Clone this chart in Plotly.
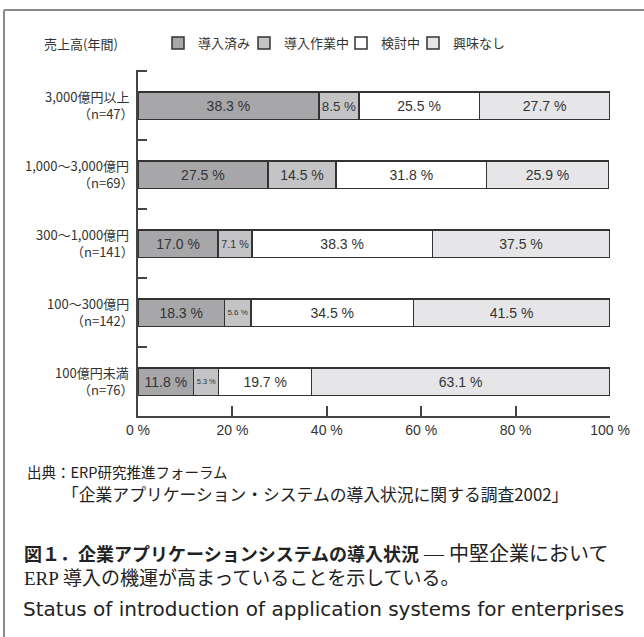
import plotly.graph_objects as go

# ---- data ----
categories = ["3,000億円以上", "1,000～3,000億円", "300～1,000億円", "100～300億円", "100億円未満"]
sample_sizes = ["（n=47）", "（n=69）", "（n=141）", "（n=142）", "（n=76）"]
series_names = ["導入済み", "導入作業中", "検討中", "興味なし"]
adopted = [38.3, 27.5, 17.0, 18.3, 11.8]
in_progress = [8.5, 14.5, 7.1, 5.6, 5.3]
considering = [25.5, 31.8, 38.3, 34.5, 19.7]
no_interest = [27.7, 25.9, 37.5, 41.5, 63.1]
x_ticks = [0, 20, 40, 60, 80, 100]
x_tick_labels = ["0 %", "20 %", "40 %", "60 %", "80 %", "100 %"]

colors = ["#a7a7aa", "#c4c4c6", "#ffffff", "#e6e6e8"]
values = [adopted, in_progress, considering, no_interest]

W, H = 644, 637
L, R, T, B = 138, 34, 70, 221
PW, PH = W - L - R, H - T - B

def px(x):
    return (x - L) / PW

def py(y):
    return 1 - (y - T) / PH

FONT = "Noto Sans CJK JP, Liberation Sans, sans-serif"
LAT = "Liberation Sans, Noto Sans CJK JP, sans-serif"
SERIF = "Liberation Serif, Noto Sans CJK JP, serif"

fig = go.Figure()
legend_names = ["legend", "legend2", "legend3", "legend4"]
for name, vals, col, lg in zip(series_names, values, colors, legend_names):
    fig.add_trace(go.Bar(
        y=categories, x=vals, orientation="h", name=name,
        marker=dict(color=col, line=dict(color="#333333", width=1.5)),
        text=[f"{v:.1f} %" for v in vals], textposition="inside",
        insidetextanchor="middle", textangle=0,
        textfont=dict(family=LAT, size=14, color="#333333"),
        hoverinfo="skip", legend=lg,
    ))

leg_x = [172, 258, 355, 427]
legend_layout = {}
for lg, lx in zip(legend_names, leg_x):
    legend_layout[lg] = dict(
        x=px(lx - 14), y=py(43), xanchor="left", yanchor="middle",
        orientation="h", bgcolor="rgba(0,0,0,0)", itemwidth=30,
        font=dict(family=FONT, size=13, color="#333333"),
        tracegroupgap=0,
    )

fig.update_layout(
    width=W, height=H, margin=dict(l=L, r=R, t=T, b=B, autoexpand=False),
    paper_bgcolor="white", plot_bgcolor="white",
    barmode="stack", bargap=0.6,
    showlegend=True,
    **legend_layout,
    xaxis=dict(range=[0, 100], tickvals=x_ticks, ticktext=x_tick_labels,
               ticks="inside", ticklen=10, tickwidth=1.5, tickcolor="#444444",
               showline=True, linecolor="#444444", linewidth=1.5,
               showgrid=False, zeroline=False,
               tickfont=dict(family=LAT, size=14, color="#333333")),
    yaxis=dict(categoryorder="array", categoryarray=categories,
               range=[4.5, -0.52], tickson="boundaries",
               ticks="inside", ticklen=9, tickwidth=1.5, tickcolor="#444444",
               showline=True, linecolor="#444444", linewidth=1.5,
               showgrid=False, zeroline=False, showticklabels=False),
)

ann = []
for cat, n in zip(categories, sample_sizes):
    ann.append(dict(text=cat, x=px(131), y=cat, yref="y", xref="paper", yshift=9,
                    xanchor="right", yanchor="middle",
                    font=dict(family=FONT, size=13, color="#333333")))
    ann.append(dict(text=n, x=px(136), y=cat, yref="y", xref="paper", yshift=-8,
                    xanchor="right", yanchor="middle",
                    font=dict(family=FONT, size=13, color="#333333")))
ann.append(dict(text="売上高(年間)", x=px(42), y=py(43), xanchor="left", yanchor="middle",
                font=dict(family=FONT, size=13, color="#333333")))
ann.append(dict(text="出典：ERP研究推進フォーラム", x=px(25), y=py(471), xanchor="left",
                yanchor="middle", font=dict(family=FONT, size=14.5, color="#222222")))
ann.append(dict(text="「企業アプリケーション・システムの導入状況に関する調査2002」", x=px(60),
                y=py(494), xanchor="left", yanchor="middle",
                font=dict(family=FONT, size=16.8, color="#222222")))
ann.append(dict(text="<b>図１．企業アプリケーションシステムの導入状況</b>"
                     f"<span style='font-family:{SERIF};font-size:20px'> ― 中堅企業において</span>",
                x=px(22), y=py(553), xanchor="left", yanchor="middle",
                font=dict(family=FONT, size=18, color="#222222")))
ann.append(dict(text="ERP 導入の機運が高まっていることを示している。", x=px(22), y=py(578),
                xanchor="left", yanchor="middle",
                font=dict(family=SERIF, size=19, color="#222222")))
ann.append(dict(text="Status of introduction of application systems for enterprises",
                x=px(21), y=py(609), xanchor="left", yanchor="middle",
                font=dict(family="DejaVu Sans, sans-serif", size=20, color="#222222")))
for a in ann:
    a.setdefault("xref", "paper")
    a.setdefault("yref", "paper")
    a["showarrow"] = False
fig.update_layout(annotations=ann)

fig.add_shape(type="line", xref="paper", yref="paper", x0=px(4), x1=px(644), y0=py(10), y1=py(10),
              line=dict(color="#8a8a8a", width=2))
fig.add_shape(type="line", xref="paper", yref="paper", x0=px(4), x1=px(4), y0=py(10), y1=py(637),
              line=dict(color="#8a8a8a", width=2))

fig.write_html("out.html")
